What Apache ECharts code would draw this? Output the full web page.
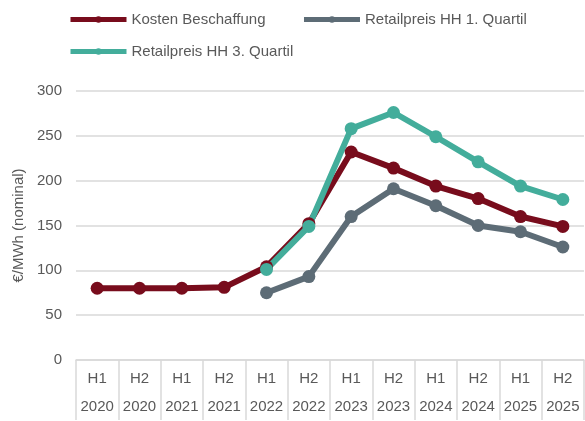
<!DOCTYPE html>
<html lang="de">
<head>
  <meta charset="UTF-8">
  <title>Kosten Beschaffung vs. Retailpreis</title>
  <script src="https://cdn.jsdelivr.net/npm/echarts@6/dist/echarts.min.js"></script>
  <style>
    html, body { margin: 0; padding: 0; background: #fff; }
  </style>
</head>
<body>
  <div id="main" style="width:585px;height:421px;"></div>
<script>
  // Halbjahre und Jahre der x-Achse
  const halves = ["H1", "H2", "H1", "H2", "H1", "H2", "H1", "H2", "H1", "H2", "H1", "H2"];
  const years = ["2020", "2020", "2021", "2021", "2022", "2022", "2023", "2023", "2024", "2024", "2025", "2025"];

  // Werte in €/MWh (nominal)
  const kostenBeschaffung = [80, 80, 80, 81, 104, 152, 232, 214, 194, 180, 160, 149];
  const retailQ1 = [null, null, null, null, 75, 93, 160, 191, 172, 150, 143, 126];
  const retailQ3 = [null, null, null, null, 101, 149, 258, 276, 249, 221, 194, 179];

  const yTicks = [0, 50, 100, 150, 200, 250, 300];

  const categories = halves.map((h, i) => h + "\n" + years[i]);
  const font = "Liberation Sans, Arial, sans-serif";
  const textColor = "#595959";
  const gridColor = "#d9d9d9";

  function lineSeries(name, data, color) {
    return {
      name: name,
      type: "line",
      data: data,
      symbol: "circle",
      symbolSize: 13,
      connectNulls: false,
      lineStyle: { width: 6, color: color },
      itemStyle: { color: color },
      emphasis: { disabled: true },
      animation: false
    };
  }

  const legendBase = {
    left: 63,
    itemWidth: 56,
    itemHeight: 8,
    itemGap: 36,
    lineStyle: { width: 5 },
    textStyle: { fontFamily: font, fontSize: 15, color: textColor }
  };

  let myChart = echarts.init(document.getElementById("main"));
  let option = {
    color: ["#780c1c", "#5d6c76", "#43ad9b"],
    legend: [
      Object.assign({ data: ["Kosten Beschaffung", "Retailpreis HH 1. Quartil"], top: 7 }, legendBase),
      Object.assign({ data: ["Retailpreis HH 3. Quartil"], top: 39 }, legendBase)
    ],
    grid: { left: 76, right: 1, top: 91, bottom: 58, containLabel: false },
    xAxis: {
      type: "category",
      data: categories,
      boundaryGap: true,
      axisLine: { lineStyle: { color: gridColor, width: 1.5 } },
      axisTick: { show: true, interval: 0, length: 60, lineStyle: { color: gridColor, width: 1.5 } },
      axisLabel: {
        interval: 0,
        margin: 5,
        fontFamily: font,
        fontSize: 15,
        lineHeight: 28,
        color: textColor
      }
    },
    yAxis: {
      type: "value",
      min: yTicks[0],
      max: yTicks[yTicks.length - 1],
      interval: 50,
      name: "€/MWh (nominal)",
      nameLocation: "middle",
      nameGap: 48,
      nameTextStyle: { fontFamily: font, fontSize: 15, color: textColor },
      axisLine: { show: false },
      axisTick: { show: false },
      axisLabel: { margin: 14, fontFamily: font, fontSize: 15, color: textColor },
      splitLine: { lineStyle: { color: gridColor, width: 1.5 } }
    },
    series: [
      lineSeries("Kosten Beschaffung", kostenBeschaffung, "#780c1c"),
      lineSeries("Retailpreis HH 1. Quartil", retailQ1, "#5d6c76"),
      lineSeries("Retailpreis HH 3. Quartil", retailQ3, "#43ad9b")
    ]
  };
  myChart.setOption(option);
</script>
</body>
</html>
